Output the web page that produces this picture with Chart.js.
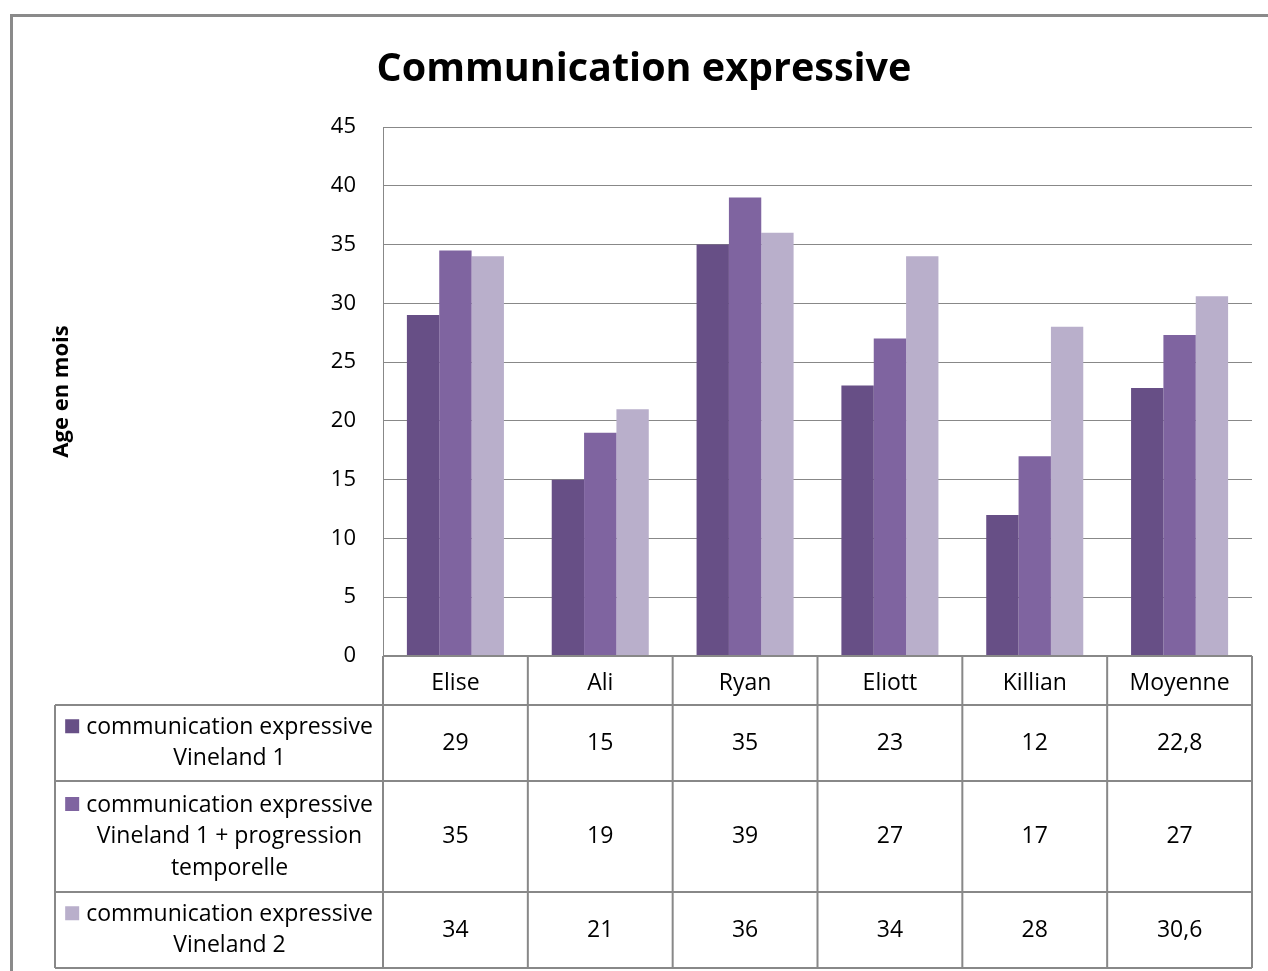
<!DOCTYPE html>
<html lang="fr">
<head>
<meta charset="utf-8">
<title>Communication expressive</title>
<script src="https://cdn.jsdelivr.net/npm/chart.js@4.4.1/dist/chart.umd.min.js"></script>
<style>
  html, body { margin: 0; padding: 0; background: #fff; overflow: hidden; }
  #wrap { position: absolute; left: 10px; top: 14px; width: 1268px; height: 957px; }
</style>
</head>
<body>
<div id="wrap"><canvas id="chart" width="1268" height="957"></canvas></div>
<script>
// Données
const categories = ['Elise', 'Ali', 'Ryan', 'Eliott', 'Killian', 'Moyenne'];
const vineland1 = [29, 15, 35, 23, 12, 22.8];
const vineland1Progression = [34.5, 19, 39, 27, 17, 27.3];
const vineland2 = [34, 21, 36, 34, 28, 30.6];
const yTicks = [0, 5, 10, 15, 20, 25, 30, 35, 40, 45];

// libellés de la légende du tableau, déjà coupés comme dans l'original
const legendLines = [
    ['communication expressive', 'Vineland 1'],
    ['communication expressive', 'Vineland 1 + progression', 'temporelle'],
    ['communication expressive', 'Vineland 2']
];
const tableDecimals = [1, 0, 1];
const colors = ['#674f86', '#7f64a0', '#b9afcb'];

const seriesData = [vineland1, vineland1Progression, vineland2];
const police = '"Open Sans", "Noto Sans", sans-serif';

function formatValue(v, d) {
    let s = v.toFixed(d);
    if (d > 0) s = s.replace(/\.0+$/, '');
    return s.replace('.', ',');
}

// cadre gris autour du graphique
const cadre = {
    id: 'cadre',
    beforeDraw(chart) {
        const { ctx, width, height } = chart;
        ctx.save();
        ctx.fillStyle = '#8a8a8a';
        ctx.fillRect(0, 0, 3, height);
        ctx.fillRect(0, 0, width, 3);
        ctx.restore();
    }
};

// tableau de données sous l'axe des x
const tableau = {
    id: 'tableau',
    afterDraw(chart) {
        const { ctx, chartArea } = chart;
        const x = chart.scales.x;
        const colW = (chartArea.right - chartArea.left) / categories.length;
        const top = chartArea.bottom;
        const rows = [top + 49, top + 125, top + 236, top + 312];
        const legendLeft = 45;
        const legendCenter = (legendLeft + chartArea.left) / 2;

        ctx.save();
        ctx.strokeStyle = '#888';
        ctx.lineWidth = 2;
        ctx.beginPath();
        ctx.moveTo(chartArea.left, top);
        ctx.lineTo(chartArea.right, top);
        rows.forEach(yy => {
            ctx.moveTo(legendLeft, yy);
            ctx.lineTo(chartArea.right, yy);
        });
        for (let i = 0; i <= categories.length; i++) {
            const xx = chartArea.left + i * colW;
            ctx.moveTo(xx, top);
            ctx.lineTo(xx, rows[3]);
        }
        ctx.moveTo(legendLeft, rows[0]);
        ctx.lineTo(legendLeft, rows[3]);
        ctx.stroke();

        ctx.font = '23px ' + police;
        ctx.textBaseline = 'middle';
        ctx.textAlign = 'center';
        seriesData.forEach((data, r) => {
            const cy = (rows[r] + rows[r + 1]) / 2;
            ctx.fillStyle = '#000';
            data.forEach((v, i) => {
                ctx.fillText(formatValue(v, tableDecimals[r]), x.getPixelForValue(i), cy);
            });

            // carré de couleur + texte, le bloc de texte est centré après le carré
            const lns = legendLines[r];
            const lh = 31.5;
            const w = ctx.measureText(lns[0]).width;
            const sx = legendCenter - (14 + 7 + w) / 2;
            const tx = sx + 21 + w / 2;
            let ly = cy - (lns.length - 1) * lh / 2;
            ctx.fillStyle = colors[r];
            ctx.fillRect(sx, ly - 8, 14, 14);
            ctx.fillStyle = '#000';
            lns.forEach(t => {
                ctx.fillText(t, tx, ly);
                ly += lh;
            });
        });
        ctx.restore();
    }
};

const ctx = document.getElementById('chart').getContext('2d');
new Chart(ctx, {
    type: 'bar',
    data: {
        labels: categories,
        datasets: seriesData.map((d, i) => ({
            label: legendLines[i].join(' '),
            data: d,
            backgroundColor: colors[i],
            borderWidth: 0,
            categoryPercentage: 0.67,
            barPercentage: 1
        }))
    },
    options: {
        responsive: false,
        animation: false,
        events: [],
        layout: { padding: { left: 26, right: 26, top: 0, bottom: 0 } },
        plugins: {
            legend: { display: false },
            tooltip: { enabled: false },
            title: {
                display: true,
                text: 'Communication expressive',
                color: '#000',
                font: { family: police, size: 39.5, weight: 'bold' },
                padding: { top: 32, bottom: 33.6 }
            }
        },
        scales: {
            x: {
                grid: { display: false },
                border: { display: false },
                ticks: {
                    color: '#000',
                    font: { family: police, size: 23 },
                    padding: 6,
                    maxRotation: 0
                },
                afterFit(scale) { scale.height = 315; }
            },
            y: {
                min: yTicks[0],
                max: yTicks[yTicks.length - 1],
                afterBuildTicks(scale) { scale.ticks = yTicks.map(v => ({ value: v })); },
                grid: { color: '#888', lineWidth: 1, drawTicks: false },
                border: { display: true, color: '#888', width: 1 },
                ticks: {
                    color: '#000',
                    font: { family: police, size: 22 },
                    padding: 27
                },
                title: {
                    display: true,
                    text: 'Age en mois',
                    color: '#000',
                    font: { family: police, size: 22, weight: 'bold' },
                    padding: { top: 12.8, bottom: 0 }
                },
                afterFit(scale) { scale.width = 347; }
            }
        }
    },
    plugins: [cadre, tableau]
});
</script>
</body>
</html>
